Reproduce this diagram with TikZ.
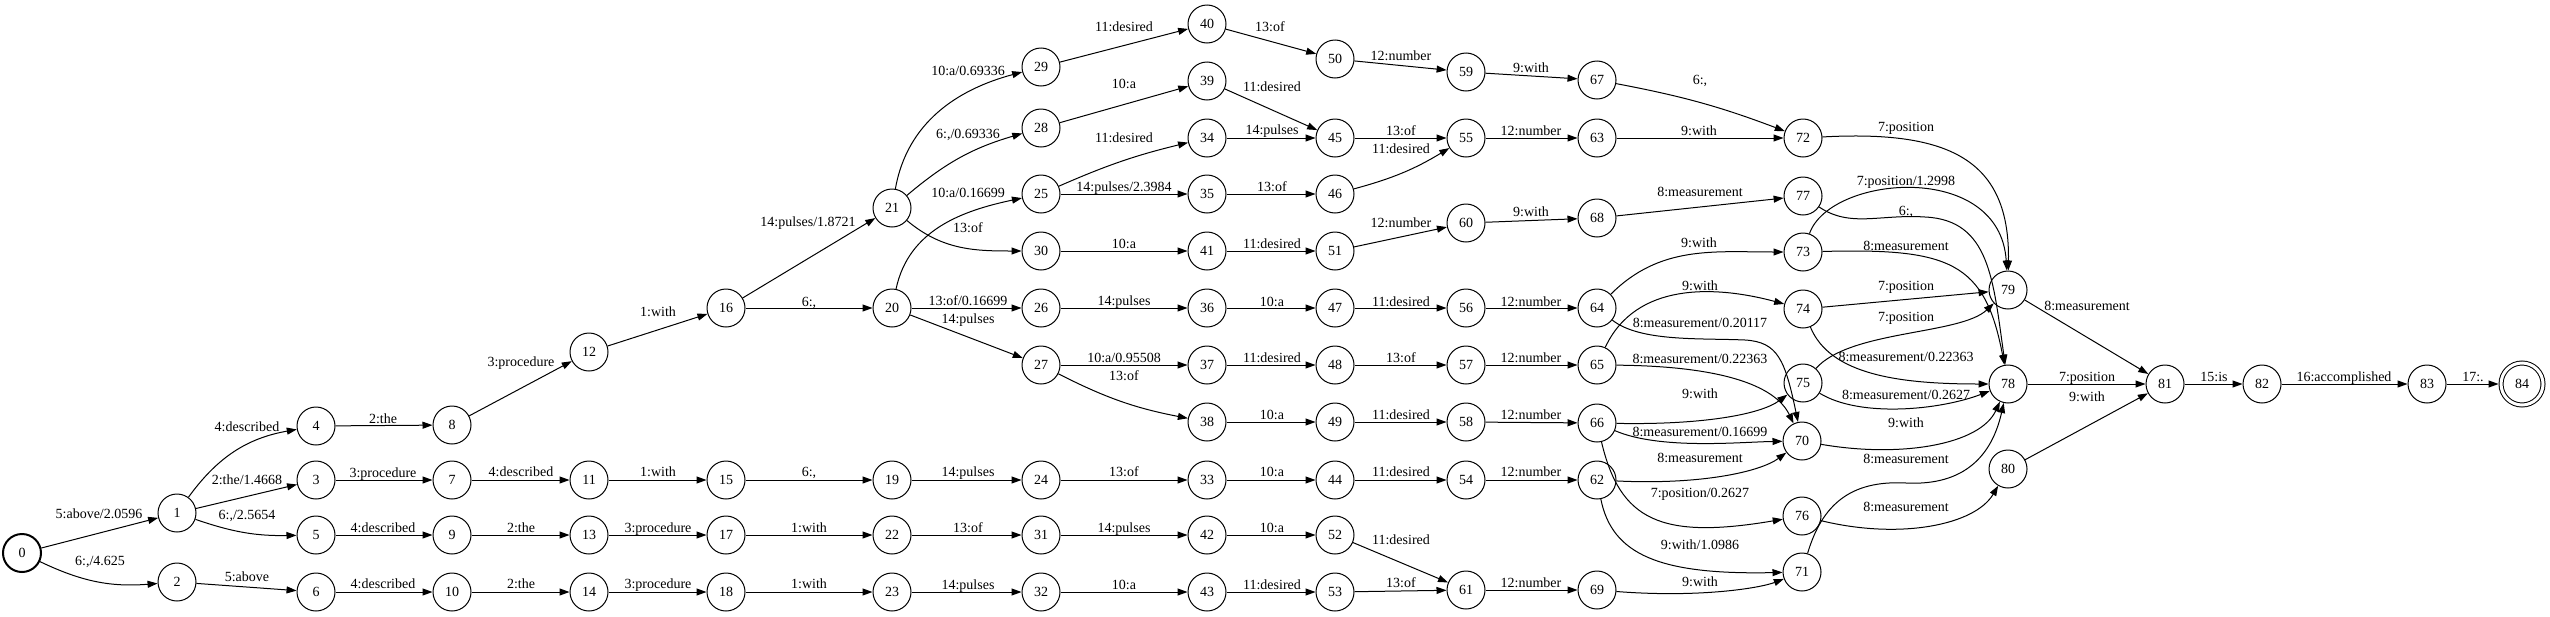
\documentclass[tikz,border=0pt]{standalone}
\usepackage{fontspec}
\setmainfont{Liberation Serif}
\usetikzlibrary{arrows.meta}
\begin{document}
\begin{tikzpicture}[x=1pt,y=-1pt,
  st/.style={circle,draw,line width=1pt,minimum size=38pt,inner sep=0pt,font=\fontsize{14}{16}\selectfont},
  init/.style={st,line width=2pt},
  fin/.style={st,double,double distance=3pt,minimum size=42pt,outer sep=2.5pt},
  lbl/.style={font=\fontsize{14}{16}\selectfont,inner sep=0pt,text height=9.5pt,text depth=0pt},
  e/.style={-{Triangle[length=10pt,width=7pt]},line width=1pt},
]
\useasboundingbox (0,0) rectangle (2550,616);
% states
\node[init] (n0) at (22,553) {0};
\node[st] (n1) at (177,513) {1};
\node[st] (n2) at (177,582) {2};
\node[st] (n3) at (316,480) {3};
\node[st] (n4) at (316,426) {4};
\node[st] (n5) at (316,535) {5};
\node[st] (n6) at (316,592) {6};
\node[st] (n7) at (452,480) {7};
\node[st] (n8) at (452,425) {8};
\node[st] (n9) at (452,535) {9};
\node[st] (n10) at (452,592) {10};
\node[st] (n11) at (589,480) {11};
\node[st] (n12) at (589,352) {12};
\node[st] (n13) at (589,535) {13};
\node[st] (n14) at (589,592) {14};
\node[st] (n15) at (726,480) {15};
\node[st] (n16) at (726,308) {16};
\node[st] (n17) at (726,535) {17};
\node[st] (n18) at (726,592) {18};
\node[st] (n19) at (892,480) {19};
\node[st] (n20) at (892,308) {20};
\node[st] (n21) at (892,208) {21};
\node[st] (n22) at (892,535) {22};
\node[st] (n23) at (892,592) {23};
\node[st] (n24) at (1041,480) {24};
\node[st] (n25) at (1041,194) {25};
\node[st] (n26) at (1041,308) {26};
\node[st] (n27) at (1041,365) {27};
\node[st] (n28) at (1041,128) {28};
\node[st] (n29) at (1041,67) {29};
\node[st] (n30) at (1041,251) {30};
\node[st] (n31) at (1041,535) {31};
\node[st] (n32) at (1041,592) {32};
\node[st] (n33) at (1207,480) {33};
\node[st] (n34) at (1207,138) {34};
\node[st] (n35) at (1207,194) {35};
\node[st] (n36) at (1207,308) {36};
\node[st] (n37) at (1207,365) {37};
\node[st] (n38) at (1207,422) {38};
\node[st] (n39) at (1207,81) {39};
\node[st] (n40) at (1207,24) {40};
\node[st] (n41) at (1207,251) {41};
\node[st] (n42) at (1207,535) {42};
\node[st] (n43) at (1207,592) {43};
\node[st] (n44) at (1335,480) {44};
\node[st] (n45) at (1335,138) {45};
\node[st] (n46) at (1335,194) {46};
\node[st] (n47) at (1335,308) {47};
\node[st] (n48) at (1335,365) {48};
\node[st] (n49) at (1335,422) {49};
\node[st] (n50) at (1335,59) {50};
\node[st] (n51) at (1335,251) {51};
\node[st] (n52) at (1335,535) {52};
\node[st] (n53) at (1335,592) {53};
\node[st] (n54) at (1466,480) {54};
\node[st] (n55) at (1466,138) {55};
\node[st] (n56) at (1466,308) {56};
\node[st] (n57) at (1466,365) {57};
\node[st] (n58) at (1466,422) {58};
\node[st] (n59) at (1466,72) {59};
\node[st] (n60) at (1466,223) {60};
\node[st] (n61) at (1466,590) {61};
\node[st] (n62) at (1597,480) {62};
\node[st] (n63) at (1597,138) {63};
\node[st] (n64) at (1597,308) {64};
\node[st] (n65) at (1597,365) {65};
\node[st] (n66) at (1597,423) {66};
\node[st] (n67) at (1597,80) {67};
\node[st] (n68) at (1597,218) {68};
\node[st] (n69) at (1597,590) {69};
\node[st] (n70) at (1802,441) {70};
\node[st] (n71) at (1802,572) {71};
\node[st] (n72) at (1803,138) {72};
\node[st] (n73) at (1803,252) {73};
\node[st] (n74) at (1803,309) {74};
\node[st] (n75) at (1803,383) {75};
\node[st] (n76) at (1802,516) {76};
\node[st] (n77) at (1803,196) {77};
\node[st] (n78) at (2008,384) {78};
\node[st] (n79) at (2008,290) {79};
\node[st] (n80) at (2008,469) {80};
\node[st] (n81) at (2165,384) {81};
\node[st] (n82) at (2262,384) {82};
\node[st] (n83) at (2427,384) {83};
\node[fin] (n84) at (2522,384) {84};
% transitions
\draw[e] (n0) -- (n1);
\draw[e] (n0) to[bend right=15] (n2);
\draw[e] (n1) to[bend left=22] (n4);
\draw[e] (n1) -- (n3);
\draw[e] (n1) to[bend right=10] (n5);
\draw[e] (n2) -- (n6);
\draw[e] (n4) -- (n8);
\draw[e] (n3) -- (n7);
\draw[e] (n5) -- (n9);
\draw[e] (n6) -- (n10);
\draw[e] (n8) -- (n12);
\draw[e] (n7) -- (n11);
\draw[e] (n9) -- (n13);
\draw[e] (n10) -- (n14);
\draw[e] (n12) -- (n16);
\draw[e] (n11) -- (n15);
\draw[e] (n13) -- (n17);
\draw[e] (n14) -- (n18);
\draw[e] (n16) -- (n21);
\draw[e] (n16) -- (n20);
\draw[e] (n15) -- (n19);
\draw[e] (n17) -- (n22);
\draw[e] (n18) -- (n23);
\draw[e] (n21) to[out=80,in=195] (n29);
\draw[e] (n21) to[bend left=12] (n28);
\draw[e] (n21) to[out=-40,in=180] (n30);
\draw[e] (n20) to[out=78,in=192] (n25);
\draw[e] (n20) -- (n26);
\draw[e] (n20) -- (n27);
\draw[e] (n19) -- (n24);
\draw[e] (n22) -- (n31);
\draw[e] (n23) -- (n32);
\draw[e] (n29) -- (n40);
\draw[e] (n28) -- (n39);
\draw[e] (n25) to[bend left=5] (n34);
\draw[e] (n25) -- (n35);
\draw[e] (n30) -- (n41);
\draw[e] (n26) -- (n36);
\draw[e] (n27) -- (n37);
\draw[e] (n27) to[bend right=8] (n38);
\draw[e] (n24) -- (n33);
\draw[e] (n31) -- (n42);
\draw[e] (n32) -- (n43);
\draw[e] (n40) -- (n50);
\draw[e] (n39) -- (n45);
\draw[e] (n34) -- (n45);
\draw[e] (n35) -- (n46);
\draw[e] (n41) -- (n51);
\draw[e] (n36) -- (n47);
\draw[e] (n37) -- (n48);
\draw[e] (n38) -- (n49);
\draw[e] (n33) -- (n44);
\draw[e] (n42) -- (n52);
\draw[e] (n43) -- (n53);
\draw[e] (n50) -- (n59);
\draw[e] (n45) -- (n55);
\draw[e] (n46) to[bend right=8] (n55);
\draw[e] (n51) -- (n60);
\draw[e] (n47) -- (n56);
\draw[e] (n48) -- (n57);
\draw[e] (n49) -- (n58);
\draw[e] (n44) -- (n54);
\draw[e] (n52) -- (n61);
\draw[e] (n53) -- (n61);
\draw[e] (n59) -- (n67);
\draw[e] (n55) -- (n63);
\draw[e] (n60) -- (n68);
\draw[e] (n56) -- (n64);
\draw[e] (n57) -- (n65);
\draw[e] (n58) -- (n66);
\draw[e] (n54) -- (n62);
\draw[e] (n61) -- (n69);
\draw[e] (n67) to[bend left=5] (n72);
\draw[e] (n63) -- (n72);
\draw[e] (n68) -- (n77);
\draw[e] (n64) to[out=45,in=180] (n73);
\draw[e] (n65) to[out=65,in=165] (n74);
\draw[e] (n64) .. controls (1640,342) and (1700,338) .. (1745,340) .. controls (1778,342) and (1785,360) .. (n70);
\draw[e] (n65) .. controls (1720,366) and (1775,385) .. (n70);
\draw[e] (n66) .. controls (1700,425) and (1760,415) .. (n75);
\draw[e] (n66) .. controls (1660,450) and (1740,442) .. (n70);
\draw[e] (n62) .. controls (1700,485) and (1760,472) .. (n70);
\draw[e] (n66) .. controls (1620,520) and (1660,540) .. (n76);
\draw[e] (n62) .. controls (1612,555) and (1660,575) .. (n71);
\draw[e] (n69) .. controls (1700,598) and (1760,588) .. (n71);
\draw[e] (n72) .. controls (1950,130) and (2010,160) .. (n79);
\draw[e] (n73) .. controls (1830,175) and (2000,160) .. (n79);
\draw[e] (n77) .. controls (1850,228) and (1880,214) .. (1925,217) .. controls (1990,220) and (1993,280) .. (n78);
\draw[e] (n73) .. controls (1950,248) and (1985,262) .. (n78);
\draw[e] (n74) -- (n79);
\draw[e] (n75) .. controls (1850,330) and (1960,335) .. (n79);
\draw[e] (n74) .. controls (1830,375) and (1900,384) .. (n78);
\draw[e] (n75) .. controls (1860,418) and (1940,410) .. (n78);
\draw[e] (n70) .. controls (1900,458) and (1980,445) .. (n78);
\draw[e] (n71) .. controls (1822,505) and (1850,480) .. (1906,483) .. controls (1965,486) and (1992,455) .. (n78);
\draw[e] (n76) .. controls (1900,540) and (1975,525) .. (n80);
\draw[e] (n79) -- (n81);
\draw[e] (n78) -- (n81);
\draw[e] (n80) -- (n81);
\draw[e] (n81) -- (n82);
\draw[e] (n82) -- (n83);
\draw[e] (n83) -- (n84);
% labels
\node[lbl] (l0-1) at (99,514) {5:above/2.0596};
\node[lbl] (l0-2) at (100,561) {6:,/4.625};
\node[lbl] (l1-4) at (247,427) {4:described};
\node[lbl] (l1-3) at (247,480) {2:the/1.4668};
\node[lbl] (l1-5) at (247,515) {6:,/2.5654};
\node[lbl] (l2-6) at (247,577) {5:above};
\node[lbl] (l4-8) at (383,419) {2:the};
\node[lbl] (l3-7) at (383,473) {3:procedure};
\node[lbl] (l5-9) at (383,528) {4:described};
\node[lbl] (l6-10) at (383,584) {4:described};
\node[lbl] (l8-12) at (521,362) {3:procedure};
\node[lbl] (l7-11) at (521,472) {4:described};
\node[lbl] (l9-13) at (521,528) {2:the};
\node[lbl] (l10-14) at (521,584) {2:the};
\node[lbl] (l12-16) at (658,312) {1:with};
\node[lbl] (l11-15) at (658,472) {1:with};
\node[lbl] (l13-17) at (658,528) {3:procedure};
\node[lbl] (l14-18) at (658,584) {3:procedure};
\node[lbl] (l16-21) at (808,222) {14:pulses/1.8721};
\node[lbl] (l16-20) at (809,302) {6:,};
\node[lbl] (l15-19) at (809,472) {6:,};
\node[lbl] (l17-22) at (809,528) {1:with};
\node[lbl] (l18-23) at (809,584) {1:with};
\node[lbl] (l21-29) at (968,71) {10:a/0.69336};
\node[lbl] (l21-28) at (968,134) {6:,/0.69336};
\node[lbl] (l20-25) at (968,193) {10:a/0.16699};
\node[lbl] (l21-30) at (968,228) {13:of};
\node[lbl] (l20-26) at (968,301) {13:of/0.16699};
\node[lbl] (l20-27) at (968,319) {14:pulses};
\node[lbl] (l19-24) at (968,472) {14:pulses};
\node[lbl] (l22-31) at (968,528) {13:of};
\node[lbl] (l23-32) at (968,585) {14:pulses};
\node[lbl] (l29-40) at (1124,27) {11:desired};
\node[lbl] (l28-39) at (1124,84) {10:a};
\node[lbl] (l25-34) at (1124,138) {11:desired};
\node[lbl] (l25-35) at (1124,187) {14:pulses/2.3984};
\node[lbl] (l30-41) at (1124,244) {10:a};
\node[lbl] (l26-36) at (1124,301) {14:pulses};
\node[lbl] (l27-37) at (1124,358) {10:a/0.95508};
\node[lbl] (l27-38) at (1124,376) {13:of};
\node[lbl] (l24-33) at (1124,472) {13:of};
\node[lbl] (l31-42) at (1124,528) {14:pulses};
\node[lbl] (l32-43) at (1124,585) {10:a};
\node[lbl] (l40-50) at (1270,27) {13:of};
\node[lbl] (l39-45) at (1272,87) {11:desired};
\node[lbl] (l34-45) at (1272,130) {14:pulses};
\node[lbl] (l35-46) at (1272,187) {13:of};
\node[lbl] (l41-51) at (1272,244) {11:desired};
\node[lbl] (l36-47) at (1272,302) {10:a};
\node[lbl] (l37-48) at (1272,358) {11:desired};
\node[lbl] (l38-49) at (1272,415) {10:a};
\node[lbl] (l33-44) at (1272,472) {10:a};
\node[lbl] (l42-52) at (1272,528) {10:a};
\node[lbl] (l43-53) at (1272,585) {11:desired};
\node[lbl] (l50-59) at (1401,56) {12:number};
\node[lbl] (l45-55) at (1401,131) {13:of};
\node[lbl] (l46-55) at (1401,149) {11:desired};
\node[lbl] (l51-60) at (1401,223) {12:number};
\node[lbl] (l47-56) at (1401,302) {11:desired};
\node[lbl] (l48-57) at (1401,358) {13:of};
\node[lbl] (l49-58) at (1401,415) {11:desired};
\node[lbl] (l44-54) at (1401,472) {11:desired};
\node[lbl] (l52-61) at (1401,540) {11:desired};
\node[lbl] (l53-61) at (1401,583) {13:of};
\node[lbl] (l59-67) at (1531,68) {9:with};
\node[lbl] (l55-63) at (1531,131) {12:number};
\node[lbl] (l60-68) at (1531,212) {9:with};
\node[lbl] (l56-64) at (1531,302) {12:number};
\node[lbl] (l57-65) at (1531,358) {12:number};
\node[lbl] (l58-66) at (1531,415) {12:number};
\node[lbl] (l54-62) at (1531,472) {12:number};
\node[lbl] (l61-69) at (1531,583) {12:number};
\node[lbl] (l67-72) at (1700,80) {6:,};
\node[lbl] (l63-72) at (1699,131) {9:with};
\node[lbl] (l68-77) at (1700,192) {8:measurement};
\node[lbl] (l64-73) at (1699,243) {9:with};
\node[lbl] (l65-74) at (1700,286) {9:with};
\node[lbl] (l64-70) at (1700,323) {8:measurement/0.20117};
\node[lbl] (l65-70) at (1700,359) {8:measurement/0.22363};
\node[lbl] (l66-75) at (1700,394) {9:with};
\node[lbl] (l66-70) at (1700,432) {8:measurement/0.16699};
\node[lbl] (l62-70) at (1700,458) {8:measurement};
\node[lbl] (l66-76) at (1700,493) {7:position/0.2627};
\node[lbl] (l62-71) at (1700,545) {9:with/1.0986};
\node[lbl] (l69-71) at (1700,582) {9:with};
\node[lbl] (l72-79) at (1906,127) {7:position};
\node[lbl] (l73-79) at (1906,181) {7:position/1.2998};
\node[lbl] (l77-78) at (1906,211) {6:,};
\node[lbl] (l73-78) at (1906,246) {8:measurement};
\node[lbl] (l74-79) at (1906,286) {7:position};
\node[lbl] (l75-79) at (1906,317) {7:position};
\node[lbl] (l74-78) at (1906,357) {8:measurement/0.22363};
\node[lbl] (l75-78) at (1906,395) {8:measurement/0.2627};
\node[lbl] (l70-78) at (1906,423) {9:with};
\node[lbl] (l71-78) at (1906,459) {8:measurement};
\node[lbl] (l76-80) at (1906,507) {8:measurement};
\node[lbl] (l79-81) at (2087,306) {8:measurement};
\node[lbl] (l78-81) at (2087,377) {7:position};
\node[lbl] (l80-81) at (2087,397) {9:with};
\node[lbl] (l81-82) at (2214,377) {15:is};
\node[lbl] (l82-83) at (2344,377) {16:accomplished};
\node[lbl] (l83-84) at (2473,377) {17:.};
\end{tikzpicture}
\end{document}
